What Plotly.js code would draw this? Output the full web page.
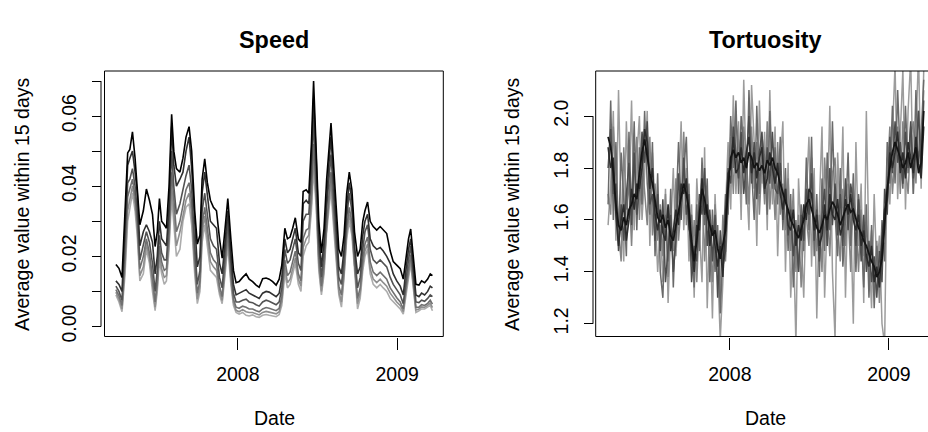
<!DOCTYPE html>
<html>
<head>
<meta charset="utf-8">
<script src="https://cdn.plot.ly/plotly-3.0.1.min.js"></script>
<style>html,body{margin:0;padding:0;background:#fff;}#chart{width:928px;height:432px;}</style>
</head>
<body>
<div id="chart"></div>
<script>
// ---------- DATA ----------
const startDate = '2007-03-27';
const xTickVals = ['2008-01-01', '2009-01-01'];
const xTickText = ['2008', '2009'];
const speedTickVals = [0, 0.01, 0.02, 0.03, 0.04, 0.05, 0.06, 0.07];
const speedTickText = ['0.00', '', '0.02', '', '0.04', '', '0.06', ''];
const tortTickVals = [1.2, 1.4, 1.6, 1.8, 2.0];
const tortTickText = ['1.2', '1.4', '1.6', '1.8', '2.0'];

// day offsets from startDate for the Speed series
const speedDays = [
  0,7,14,21,27,32,38,44,49,55,
  63,70,77,84,90,95,100,105,111,116,
  122,128,133,139,147,154,161,168,174,181,
  187,193,198,204,210,217,224,231,238,244,
  250,257,264,270,276,283,291,299,306,314,
  322,329,337,345,352,360,368,375,381,388,
  394,400,406,412,419,425,430,437,443,449,
  454,460,466,472,478,484,489,494,499,506,
  512,518,524,530,536,542,548,555,561,567,
  572,578,584,591,599,607,614,622,630,637,
  645,653,660,666,672,677,683,689,696,702,
  709,716,722,727];

const speed1 = [
  0.0177,0.0166,0.0140,0.0320,0.0495,0.0505,0.0555,0.0480,0.0400,0.0290,
  0.0330,0.0392,0.0360,0.0320,0.0228,0.0270,0.0365,0.0300,0.0290,0.0280,
  0.0400,0.0605,0.0500,0.0450,0.0440,0.0480,0.0540,0.0570,0.0500,0.0330,
  0.0235,0.0260,0.0420,0.0478,0.0410,0.0360,0.0340,0.0330,0.0250,0.0195,
  0.0270,0.0365,0.0250,0.0160,0.0125,0.0128,0.0140,0.0150,0.0135,0.0128,
  0.0118,0.0112,0.0136,0.0138,0.0135,0.0128,0.0118,0.0135,0.0175,0.0280,
  0.0250,0.0255,0.0280,0.0310,0.0250,0.0240,0.0385,0.0390,0.0380,0.0520,
  0.0700,0.0520,0.0300,0.0210,0.0280,0.0420,0.0510,0.0580,0.0480,0.0330,
  0.0220,0.0200,0.0260,0.0380,0.0440,0.0390,0.0270,0.0200,0.0220,0.0300,
  0.0330,0.0355,0.0300,0.0285,0.0275,0.0285,0.0275,0.0265,0.0215,0.0185,
  0.0175,0.0165,0.0135,0.0200,0.0250,0.0278,0.0200,0.0120,0.0118,0.0130,
  0.0125,0.0135,0.0150,0.0145];

const speed2 = [
  0.0130,0.0120,0.0100,0.0280,0.0460,0.0480,0.0500,0.0440,0.0380,0.0230,
  0.0270,0.0290,0.0270,0.0240,0.0150,0.0200,0.0300,0.0250,0.0240,0.0230,
  0.0340,0.0570,0.0460,0.0400,0.0420,0.0440,0.0500,0.0540,0.0450,0.0280,
  0.0170,0.0200,0.0380,0.0440,0.0370,0.0300,0.0290,0.0280,0.0180,0.0150,
  0.0230,0.0330,0.0210,0.0120,0.0090,0.0095,0.0100,0.0105,0.0095,0.0090,
  0.0085,0.0080,0.0095,0.0100,0.0098,0.0092,0.0085,0.0095,0.0140,0.0250,
  0.0210,0.0220,0.0250,0.0280,0.0210,0.0200,0.0350,0.0360,0.0350,0.0480,
  0.0650,0.0480,0.0260,0.0170,0.0240,0.0380,0.0460,0.0540,0.0430,0.0290,
  0.0170,0.0150,0.0220,0.0340,0.0410,0.0360,0.0230,0.0150,0.0170,0.0260,
  0.0300,0.0320,0.0250,0.0230,0.0220,0.0225,0.0215,0.0200,0.0180,0.0150,
  0.0130,0.0115,0.0090,0.0160,0.0220,0.0250,0.0170,0.0090,0.0085,0.0095,
  0.0090,0.0100,0.0115,0.0110];

const speed3 = [
  0.0115,0.0100,0.0075,0.0240,0.0410,0.0420,0.0450,0.0400,0.0330,0.0190,
  0.0230,0.0270,0.0240,0.0180,0.0100,0.0160,0.0260,0.0210,0.0190,0.0190,
  0.0300,0.0500,0.0400,0.0320,0.0350,0.0390,0.0430,0.0460,0.0390,0.0230,
  0.0120,0.0160,0.0330,0.0380,0.0320,0.0250,0.0230,0.0220,0.0140,0.0110,
  0.0200,0.0300,0.0180,0.0095,0.0070,0.0070,0.0075,0.0078,0.0070,0.0068,
  0.0062,0.0058,0.0070,0.0075,0.0072,0.0068,0.0062,0.0070,0.0110,0.0220,
  0.0180,0.0190,0.0220,0.0250,0.0180,0.0160,0.0300,0.0320,0.0320,0.0430,
  0.0590,0.0430,0.0230,0.0140,0.0210,0.0340,0.0410,0.0490,0.0390,0.0250,
  0.0140,0.0120,0.0190,0.0310,0.0380,0.0330,0.0210,0.0110,0.0140,0.0220,
  0.0270,0.0290,0.0220,0.0190,0.0180,0.0190,0.0180,0.0170,0.0140,0.0120,
  0.0105,0.0090,0.0065,0.0130,0.0190,0.0230,0.0150,0.0070,0.0068,0.0075,
  0.0072,0.0080,0.0090,0.0085];

const speed4 = [
  0.0105,0.0088,0.0060,0.0200,0.0370,0.0390,0.0420,0.0370,0.0300,0.0165,
  0.0200,0.0250,0.0210,0.0140,0.0070,0.0130,0.0230,0.0185,0.0160,0.0165,
  0.0260,0.0440,0.0360,0.0270,0.0300,0.0350,0.0390,0.0410,0.0350,0.0190,
  0.0095,0.0130,0.0290,0.0340,0.0280,0.0210,0.0190,0.0180,0.0115,0.0085,
  0.0170,0.0270,0.0150,0.0078,0.0055,0.0052,0.0058,0.0055,0.0050,0.0050,
  0.0045,0.0042,0.0050,0.0054,0.0052,0.0048,0.0045,0.0052,0.0085,0.0190,
  0.0145,0.0155,0.0185,0.0215,0.0150,0.0130,0.0250,0.0275,0.0280,0.0380,
  0.0520,0.0390,0.0195,0.0115,0.0180,0.0300,0.0370,0.0440,0.0350,0.0215,
  0.0115,0.0090,0.0165,0.0280,0.0340,0.0295,0.0180,0.0080,0.0110,0.0190,
  0.0235,0.0255,0.0185,0.0155,0.0145,0.0155,0.0145,0.0135,0.0110,0.0095,
  0.0082,0.0070,0.0050,0.0110,0.0165,0.0205,0.0130,0.0055,0.0055,0.0062,
  0.0060,0.0066,0.0075,0.0064];

const speed5 = [
  0.0098,0.0078,0.0050,0.0175,0.0330,0.0360,0.0400,0.0350,0.0280,0.0145,
  0.0170,0.0235,0.0195,0.0120,0.0055,0.0115,0.0210,0.0165,0.0140,0.0145,
  0.0240,0.0400,0.0330,0.0230,0.0270,0.0320,0.0360,0.0380,0.0320,0.0170,
  0.0078,0.0115,0.0265,0.0315,0.0255,0.0185,0.0170,0.0160,0.0100,0.0074,
  0.0155,0.0250,0.0135,0.0068,0.0046,0.0042,0.0048,0.0042,0.0040,0.0040,
  0.0036,0.0033,0.0040,0.0043,0.0041,0.0038,0.0036,0.0042,0.0072,0.0170,
  0.0125,0.0135,0.0165,0.0195,0.0135,0.0115,0.0225,0.0250,0.0260,0.0350,
  0.0480,0.0360,0.0175,0.0100,0.0165,0.0285,0.0350,0.0415,0.0325,0.0195,
  0.0100,0.0070,0.0150,0.0265,0.0320,0.0275,0.0165,0.0065,0.0095,0.0175,
  0.0215,0.0235,0.0165,0.0135,0.0125,0.0135,0.0125,0.0115,0.0095,0.0082,
  0.0070,0.0060,0.0042,0.0100,0.0150,0.0190,0.0120,0.0047,0.0050,0.0056,
  0.0055,0.0060,0.0067,0.0054];

const speed6 = [
  0.0090,0.0070,0.0042,0.0150,0.0300,0.0340,0.0380,0.0330,0.0260,0.0130,
  0.0150,0.0220,0.0180,0.0100,0.0045,0.0100,0.0190,0.0150,0.0120,0.0130,
  0.0220,0.0370,0.0300,0.0200,0.0220,0.0300,0.0340,0.0350,0.0290,0.0150,
  0.0065,0.0100,0.0240,0.0290,0.0230,0.0160,0.0150,0.0140,0.0090,0.0065,
  0.0140,0.0230,0.0120,0.0060,0.0040,0.0035,0.0040,0.0032,0.0030,0.0033,
  0.0028,0.0026,0.0032,0.0034,0.0032,0.0030,0.0028,0.0034,0.0060,0.0150,
  0.0110,0.0120,0.0150,0.0180,0.0120,0.0100,0.0200,0.0230,0.0240,0.0330,
  0.0450,0.0340,0.0160,0.0090,0.0150,0.0270,0.0330,0.0390,0.0300,0.0180,
  0.0090,0.0055,0.0140,0.0250,0.0300,0.0260,0.0150,0.0050,0.0080,0.0160,
  0.0200,0.0220,0.0150,0.0120,0.0110,0.0120,0.0110,0.0100,0.0080,0.0070,
  0.0060,0.0050,0.0035,0.0090,0.0140,0.0180,0.0110,0.0040,0.0045,0.0050,
  0.0050,0.0055,0.0060,0.0045];

// day offsets from startDate for the Tortuosity series
const tortDays = [
  0,6,12,18,24,30,36,42,48,54,
  60,66,72,78,84,90,96,102,108,114,
  120,126,132,138,144,150,156,162,168,174,
  180,186,192,198,204,210,216,222,228,234,
  240,246,252,258,264,270,276,282,288,294,
  300,306,312,318,324,330,336,342,348,354,
  360,366,372,378,384,390,396,402,408,414,
  420,426,432,438,444,450,456,462,468,474,
  480,486,492,498,504,510,516,522,528,534,
  540,546,552,558,564,570,576,582,588,594,
  600,606,612,618,624,630,636,642,648,654,
  660,666,672,678,684,690,696,702,708,714,
  720,726];

const tort1 = [
  1.92,1.88,1.78,1.66,1.58,1.56,1.61,1.58,1.64,1.66,
  1.70,1.68,1.78,1.86,1.91,1.85,1.78,1.74,1.68,1.61,
  1.59,1.62,1.57,1.60,1.54,1.52,1.58,1.63,1.68,1.74,
  1.70,1.64,1.52,1.44,1.52,1.62,1.72,1.68,1.62,1.58,
  1.54,1.56,1.49,1.45,1.50,1.56,1.72,1.84,1.87,1.84,
  1.86,1.82,1.84,1.80,1.86,1.84,1.80,1.82,1.79,1.81,
  1.78,1.83,1.81,1.84,1.80,1.78,1.74,1.70,1.67,1.64,
  1.60,1.58,1.55,1.53,1.57,1.60,1.66,1.68,1.64,1.60,
  1.57,1.55,1.58,1.62,1.60,1.64,1.67,1.65,1.62,1.58,
  1.61,1.64,1.66,1.63,1.64,1.60,1.57,1.55,1.52,1.50,
  1.47,1.44,1.42,1.38,1.40,1.45,1.58,1.72,1.80,1.86,
  1.90,1.87,1.84,1.80,1.82,1.86,1.80,1.84,1.88,1.78,
  1.82,2.02];

const tort2 = [
  1.88,1.80,1.84,1.62,1.50,1.60,1.66,1.52,1.60,1.72,
  1.64,1.74,1.72,1.80,1.95,1.90,1.72,1.80,1.62,1.56,
  1.64,1.55,1.52,1.66,1.48,1.56,1.64,1.58,1.74,1.70,
  1.76,1.58,1.48,1.40,1.58,1.56,1.76,1.62,1.66,1.50,
  1.58,1.50,1.42,1.50,1.38,1.62,1.78,1.80,1.92,1.78,
  1.80,1.88,1.78,1.86,1.92,1.78,1.86,1.76,1.84,1.88,
  1.72,1.76,1.86,1.80,1.74,1.82,1.70,1.64,1.72,1.58,
  1.56,1.64,1.50,1.58,1.52,1.66,1.60,1.72,1.70,1.56,
  1.62,1.50,1.54,1.66,1.56,1.70,1.62,1.60,1.68,1.54,
  1.58,1.68,1.62,1.70,1.60,1.56,1.62,1.50,1.56,1.46,
  1.42,1.50,1.36,1.42,1.34,1.52,1.64,1.68,1.86,1.80,
  1.86,1.94,1.78,1.86,1.76,1.90,1.84,1.78,1.92,1.82,
  1.76,1.96];

const tort3 = [
  1.80,1.95,1.70,1.74,1.48,1.66,1.52,1.70,1.82,1.58,
  1.86,1.62,1.72,1.94,1.82,1.98,1.66,1.70,1.52,1.70,
  1.48,1.68,1.36,1.50,1.62,1.40,1.52,1.78,1.60,1.84,
  1.62,1.70,1.36,1.50,1.44,1.70,1.62,1.80,1.50,1.64,
  1.44,1.62,1.30,1.56,1.42,1.48,1.80,1.74,1.96,1.86,
  1.76,1.94,1.70,1.82,2.00,1.74,1.90,1.68,1.86,1.94,
  1.70,1.88,1.74,1.94,1.72,1.70,1.82,1.60,1.72,1.54,
  1.64,1.46,1.56,1.40,1.62,1.52,1.72,1.62,1.78,1.52,
  1.64,1.44,1.62,1.72,1.50,1.80,1.58,1.74,1.54,1.70,
  1.50,1.76,1.56,1.74,1.66,1.50,1.68,1.44,1.62,1.40,
  1.52,1.36,1.46,1.30,1.48,1.36,1.72,1.62,1.92,1.78,
  1.98,1.82,1.90,1.74,1.94,1.80,1.98,1.76,1.86,2.02,
  1.78,2.06];

const tort4 = [
  1.66,2.06,1.60,1.90,1.52,1.86,1.68,1.46,1.94,1.62,
  1.98,1.56,1.88,1.66,2.02,1.74,1.62,1.90,1.46,1.78,
  1.40,1.30,1.62,1.44,1.72,1.34,1.62,1.90,1.66,1.78,
  1.92,1.56,1.62,1.34,1.66,1.48,1.84,1.58,1.76,1.36,
  1.64,1.40,1.58,1.24,1.48,1.70,1.62,2.00,1.80,2.06,
  1.70,2.00,1.88,1.66,2.10,1.80,1.60,2.04,1.70,1.92,
  1.84,1.62,2.02,1.72,1.88,1.66,1.92,1.56,1.80,1.48,
  1.70,1.34,1.60,1.40,1.66,1.48,1.84,1.56,1.92,1.46,
  1.70,1.38,1.76,1.48,1.86,1.56,1.98,1.62,1.46,1.80,
  1.42,1.60,1.86,1.50,1.78,1.40,1.70,1.56,1.34,1.66,
  1.30,1.58,1.26,1.50,1.34,1.60,1.44,1.90,1.74,2.04,
  1.74,2.10,1.84,1.72,2.04,1.78,1.96,1.70,2.10,1.82,
  1.92,2.14];

const tort5 = [
  1.58,1.74,2.02,1.52,2.10,1.64,1.44,1.98,1.70,2.06,
  1.56,1.84,2.00,1.60,1.78,2.02,1.50,1.86,1.64,1.40,
  1.58,1.36,1.72,1.28,1.56,1.80,1.46,1.68,1.98,1.56,
  1.80,1.44,1.66,1.30,1.76,1.56,1.36,1.88,1.26,1.62,
  1.22,1.70,1.44,1.14,1.36,1.62,1.90,1.64,2.08,1.70,
  1.98,1.60,2.14,1.76,1.56,2.12,1.90,1.50,2.06,1.74,
  1.94,1.56,2.10,1.66,1.96,1.46,1.80,1.98,1.40,1.82,
  1.30,1.56,1.12,1.76,1.50,1.30,1.70,1.92,1.42,1.80,
  1.22,1.66,1.96,1.30,1.62,2.04,1.40,1.14,1.86,1.58,
  1.96,1.30,1.74,1.62,1.20,1.90,1.50,1.74,1.28,2.02,
  1.48,1.26,1.70,1.40,1.54,1.20,1.12,1.84,1.66,1.98,
  2.20,1.68,1.90,2.18,1.64,2.02,2.22,1.70,1.94,2.24,
  1.72,2.18];

const tort6 = [
  1.70,1.62,1.96,1.78,1.56,1.44,1.88,1.64,1.74,1.50,
  1.78,1.92,1.60,1.84,1.70,1.58,1.92,1.54,1.74,1.52,
  1.66,1.46,1.70,1.38,1.60,1.48,1.76,1.52,1.66,1.94,
  1.58,1.74,1.42,1.60,1.36,1.62,1.78,1.44,1.70,1.54,
  1.36,1.66,1.50,1.32,1.62,1.44,1.66,1.92,1.70,1.98,
  1.90,1.70,1.96,1.84,1.66,1.96,1.72,1.90,1.62,1.84,
  1.66,1.98,1.64,1.82,1.60,1.90,1.62,1.74,1.56,1.76,
  1.48,1.72,1.40,1.62,1.34,1.58,1.62,1.50,1.84,1.66,
  1.48,1.62,1.40,1.84,1.62,1.46,1.78,1.84,1.58,1.44,
  1.72,1.50,1.64,1.40,1.72,1.62,1.40,1.64,1.46,1.58,
  1.38,1.56,1.32,1.52,1.28,1.48,1.56,1.74,1.96,1.70,
  1.86,1.96,1.70,1.98,1.80,1.70,1.92,1.98,1.74,2.02,
  1.86,2.10];

// ---------- RENDER ----------
const W = 928, H = 432;
const FONT = '"Liberation Sans", Arial, Helvetica, sans-serif';
const px = x => x / W;
const py = y => 1 - y / H;
const t0 = Date.parse(startDate + 'T00:00:00Z');
const toDate = d => new Date(t0 + d * 86400000).toISOString().slice(0, 10);

const speedX = speedDays.map(toDate);
const tortX = tortDays.map(toDate);

const speedSeries = [speed6, speed5, speed4, speed3, speed2, speed1];
const speedColors = ['#acacac', '#8e8e8e', '#707070', '#525252', '#303030', '#000000'];
const tortSeries = [tort5, tort6, tort4, tort3, tort2, tort1];
const tortColors = ['#9c9c9c', '#848484', '#6a6a6a', '#4c4c4c', '#2c2c2c', '#141414'];
const tortWidths = [1.5, 1.5, 1.5, 1.5, 1.6, 1.8];

const traces = [];
speedSeries.forEach((s, i) => traces.push({
  x: speedX, y: s, type: 'scatter', mode: 'lines', xaxis: 'x', yaxis: 'y',
  line: {color: speedColors[i], width: 1.6}, hoverinfo: 'skip'
}));
tortSeries.forEach((s, i) => traces.push({
  x: tortX, y: s, type: 'scatter', mode: 'lines', xaxis: 'x2', yaxis: 'y2',
  line: {color: tortColors[i], width: tortWidths[i]}, hoverinfo: 'skip'
}));

const axFont = {family: FONT, size: 19.5, color: '#000'};
const baseX = {
  type: 'date', tickvals: xTickVals, ticktext: xTickText,
  ticks: 'outside', ticklen: 12, tickwidth: 1, tickcolor: '#000',
  showgrid: false, zeroline: false, showline: false, tickfont: axFont,
  ticklabelstandoff: 8, fixedrange: true
};
const baseY = {
  ticks: 'outside', ticklen: 9, tickwidth: 1, tickcolor: '#000', tickangle: -90,
  showgrid: false, zeroline: false, showline: false, tickfont: axFont,
  anchor: 'free', ticklabelstandoff: 8, fixedrange: true
};
const yDom = [py(336.5), py(71)];

const layout = {
  width: W, height: H, margin: {l: 0, r: 0, t: 0, b: 0}, showlegend: false,
  paper_bgcolor: '#ffffff', plot_bgcolor: 'rgba(0,0,0,0)',
  font: {family: FONT, size: 19.5, color: '#000'},
  xaxis: Object.assign({}, baseX, {domain: [px(104.5), px(443.3)], anchor: 'y',
    range: ['2007-02-28 19:00', '2009-04-16 22:00']}),
  yaxis: Object.assign({}, baseY, {domain: yDom, position: px(101),
    range: [-0.002857, 0.072857], tickvals: speedTickVals, ticktext: speedTickText}),
  xaxis2: Object.assign({}, baseX, {domain: [px(595.7), 1], anchor: 'y2',
    range: ['2007-02-26 12:00', '2009-03-31 19:00']}),
  yaxis2: Object.assign({}, baseY, {domain: yDom, position: px(593),
    range: [1.151, 2.1737], tickvals: tortTickVals, ticktext: tortTickText}),
  shapes: [
    {type: 'rect', xref: 'paper', yref: 'paper', x0: px(104.5), x1: px(443.3), y0: py(336.5), y1: py(71),
     line: {color: '#000', width: 1}},
    {type: 'rect', xref: 'paper', yref: 'paper', x0: px(595.7), x1: px(936), y0: py(336.5), y1: py(71),
     line: {color: '#000', width: 1}},
    {type: 'line', xref: 'paper', yref: 'y', x0: px(101), x1: px(101), y0: 0, y1: 0.07,
     line: {color: '#000', width: 1}},
    {type: 'line', xref: 'paper', yref: 'y2', x0: px(593), x1: px(593), y0: 1.2, y1: 2.0,
     line: {color: '#000', width: 1}}
  ],
  annotations: [
    {text: '<b>Speed</b>', xref: 'paper', yref: 'paper', x: px(274), y: py(40), showarrow: false,
     xanchor: 'center', yanchor: 'middle', font: {family: FONT, size: 23.4, color: '#000'}},
    {text: '<b>Tortuosity</b>', xref: 'paper', yref: 'paper', x: px(765.5), y: py(40), showarrow: false,
     xanchor: 'center', yanchor: 'middle', font: {family: FONT, size: 23.4, color: '#000'}},
    {text: 'Date', xref: 'paper', yref: 'paper', x: px(274), y: py(418), showarrow: false,
     xanchor: 'center', yanchor: 'middle', font: axFont},
    {text: 'Date', xref: 'paper', yref: 'paper', x: px(765.5), y: py(418), showarrow: false,
     xanchor: 'center', yanchor: 'middle', font: axFont},
    {text: 'Average value within 15 days', xref: 'paper', yref: 'paper', x: px(22), y: py(204),
     showarrow: false, textangle: -90, xanchor: 'center', yanchor: 'middle', font: axFont},
    {text: 'Average value within 15 days', xref: 'paper', yref: 'paper', x: px(512), y: py(204),
     showarrow: false, textangle: -90, xanchor: 'center', yanchor: 'middle', font: axFont}
  ]
};

Plotly.newPlot('chart', traces, layout, {staticPlot: true, displayModeBar: false});
</script>
</body>
</html>
